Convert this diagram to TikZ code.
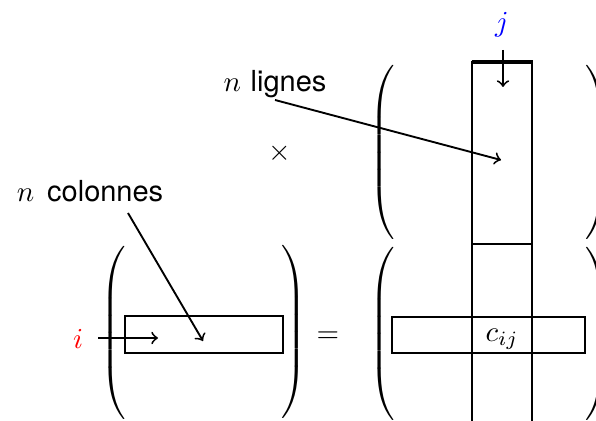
\documentclass[tikz,border=0pt]{standalone}
\usepackage{fontspec}
\newfontfamily\hvfont{TeX Gyre Heros}
\newcommand\myparL{$\delimiterfactor=1000\delimitershortfall=0pt\nulldelimiterspace=0pt\left(\vrule height 30pt depth 25pt width 0pt\right.$}
\newcommand\myparR{$\delimiterfactor=1000\delimitershortfall=0pt\nulldelimiterspace=0pt\left.\vrule height 30pt depth 25pt width 0pt\right)$}
\begin{document}
\begin{tikzpicture}[x=0.345pt,y=-0.345pt,
  box/.style={line width=1pt},
  arr/.style={->,line width=0.65pt},
  lbl/.style={inner sep=0pt},
  paren/.style={inner sep=0pt}]
\useasboundingbox (0,0) rectangle (596,421);
% parentheses
\node[paren] (pBL) at (382,152.5) {\myparL};
\node[paren] (pBR) at (598,152.5) {\myparR};
\node[paren] (pAL) at (113,333) {\myparL};
\node[paren] (pAR) at (294.5,332) {\myparR};
\node[paren] (pCL) at (382,334) {\myparL};
\node[paren] (pCR) at (598,334) {\myparR};
% boxes
\draw[box] (472,62) rectangle (532,244);
\draw[line width=1.4pt] (471.5,62) -- (532.5,62);
\draw[box] (472,244) -- (472,430);
\draw[box] (532,244) -- (532,430);
\draw[box] (125,316) rectangle (283,353);
\draw[box] (392,317) rectangle (585,353);
% labels
\node[lbl,text=blue] (j) at (502,25) {$j$};
\node[lbl,text=red] (i) at (78,339) {$i$};
\node[lbl] (times) at (280,153) {$\times$};
\node[lbl] (eq) at (328,337) {$=$};
\node[lbl] (cij) at (502,339) {$c_{ij}$};
\node[lbl,anchor=base] (lig) at (275,92) {$n$ {\hvfont lignes}};
\node[lbl,anchor=base] (col) at (90,202) {$n$\hspace{4.5pt}{\hvfont colonnes}};
% arrow points
\coordinate (jA) at (503,50);
\coordinate (jB) at (503,87);
\coordinate (iA) at (98,338);
\coordinate (iB) at (158,338);
\coordinate (ligA) at (275,100);
\coordinate (ligB) at (501,160);
\coordinate (colA) at (128,213);
\coordinate (colB) at (203,341);
\draw[arr] (jA) -- (jB);
\draw[arr] (iA) -- (iB);
\draw[arr] (ligA) -- (ligB);
\draw[arr] (colA) -- (colB);
\end{tikzpicture}
\end{document}
